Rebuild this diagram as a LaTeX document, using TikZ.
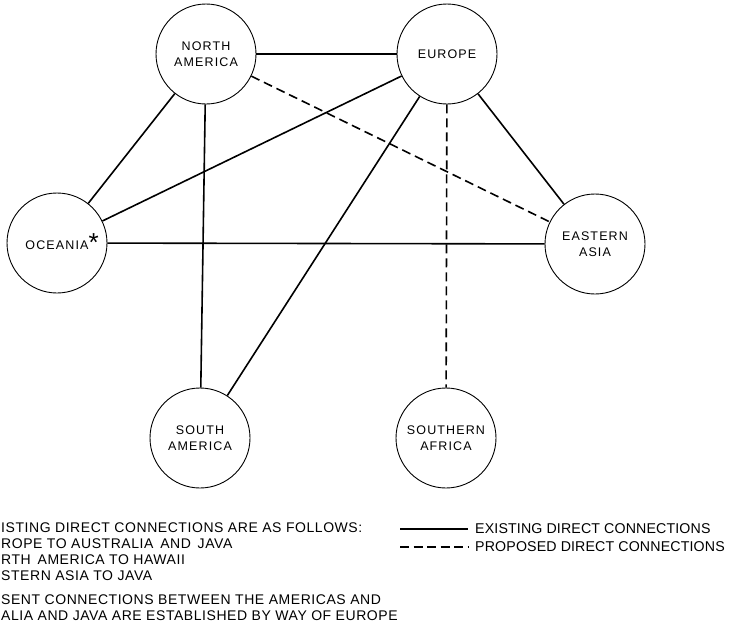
\documentclass[tikz,border=0pt]{standalone}
\usepackage{fontspec}
\setmainfont{Liberation Sans}
\newfontfamily\nodefont[LetterSpace=9]{Liberation Sans}
\newfontfamily\notefont[LetterSpace=4]{Liberation Sans}
\newfontfamily\legfont[LetterSpace=1]{Liberation Sans}
\begin{document}
\begin{tikzpicture}[x=1pt,y=-1pt,
  region/.style={circle,draw,line width=0.9pt,minimum size=100pt,inner sep=0pt,align=center,
    font=\nodefont\fontsize{12.5}{15.5}\selectfont},
  existing/.style={line width=1.6pt},
  proposed/.style={line width=1.6pt,dash pattern=on 9pt off 5pt},
  note/.style={anchor=west,inner sep=0pt,font=\notefont\fontsize{14}{16}\selectfont},
  legtext/.style={anchor=west,inner sep=0pt,font=\legfont\fontsize{14.2}{16}\selectfont}]
\useasboundingbox (0,0) rectangle (732,627);
\node[region] (na)  at (206,54)  {NORTH\\AMERICA};
\node[region] (eu)  at (447,54)  {EUROPE};
\node[region] (oc)  at (57,243)  {OCEANIA\rlap{\raisebox{-2pt}{\fontsize{26}{26}\selectfont *}}};
\node[region] (ea)  at (595,244) {EASTERN\\ASIA};
\node[region] (sa)  at (200,438) {SOUTH\\AMERICA};
\node[region] (saf) at (446,438) {SOUTHERN\\AFRICA};
\draw[existing] (na) -- (eu);
\draw[existing] (na) -- (oc);
\draw[existing] (na) -- (sa);
\draw[existing] (eu) -- (oc);
\draw[existing] (eu) -- (sa);
\draw[existing] (eu) -- (ea);
\draw[existing] (oc) -- (ea);
\draw[proposed] (na) -- (ea);
\draw[proposed] (eu) -- (saf);
% legend
\coordinate (l1a) at (400,529);
\coordinate (l1b) at (468,529);
\coordinate (l2a) at (400,547);
\coordinate (l2b) at (468,547);
\draw[existing] (l1a) -- (l1b);
\draw[proposed,dash pattern=on 9pt off 4.5pt] (l2a) -- (l2b);
\node[legtext] (t1) at (475,529) {EXISTING DIRECT CONNECTIONS};
\node[legtext] (t2) at (475,547) {PROPOSED DIRECT CONNECTIONS};
% notes
\node[note] (n1) at (1,528) {ISTING DIRECT CONNECTIONS ARE AS FOLLOWS:};
\node[note] (n2) at (1,544) {ROPE TO AUSTRALIA\, AND\, JAVA};
\node[note] (n3) at (1,560) {RTH\, AMERICA TO HAWAII};
\node[note] (n4) at (1,576) {STERN ASIA TO JAVA};
\node[note] (n5) at (1,600) {SENT CONNECTIONS BETWEEN THE AMERICAS AND};
\node[note] (n6) at (1,616) {ALIA AND JAVA ARE ESTABLISHED BY WAY OF EUROPE};
\end{tikzpicture}
\end{document}
